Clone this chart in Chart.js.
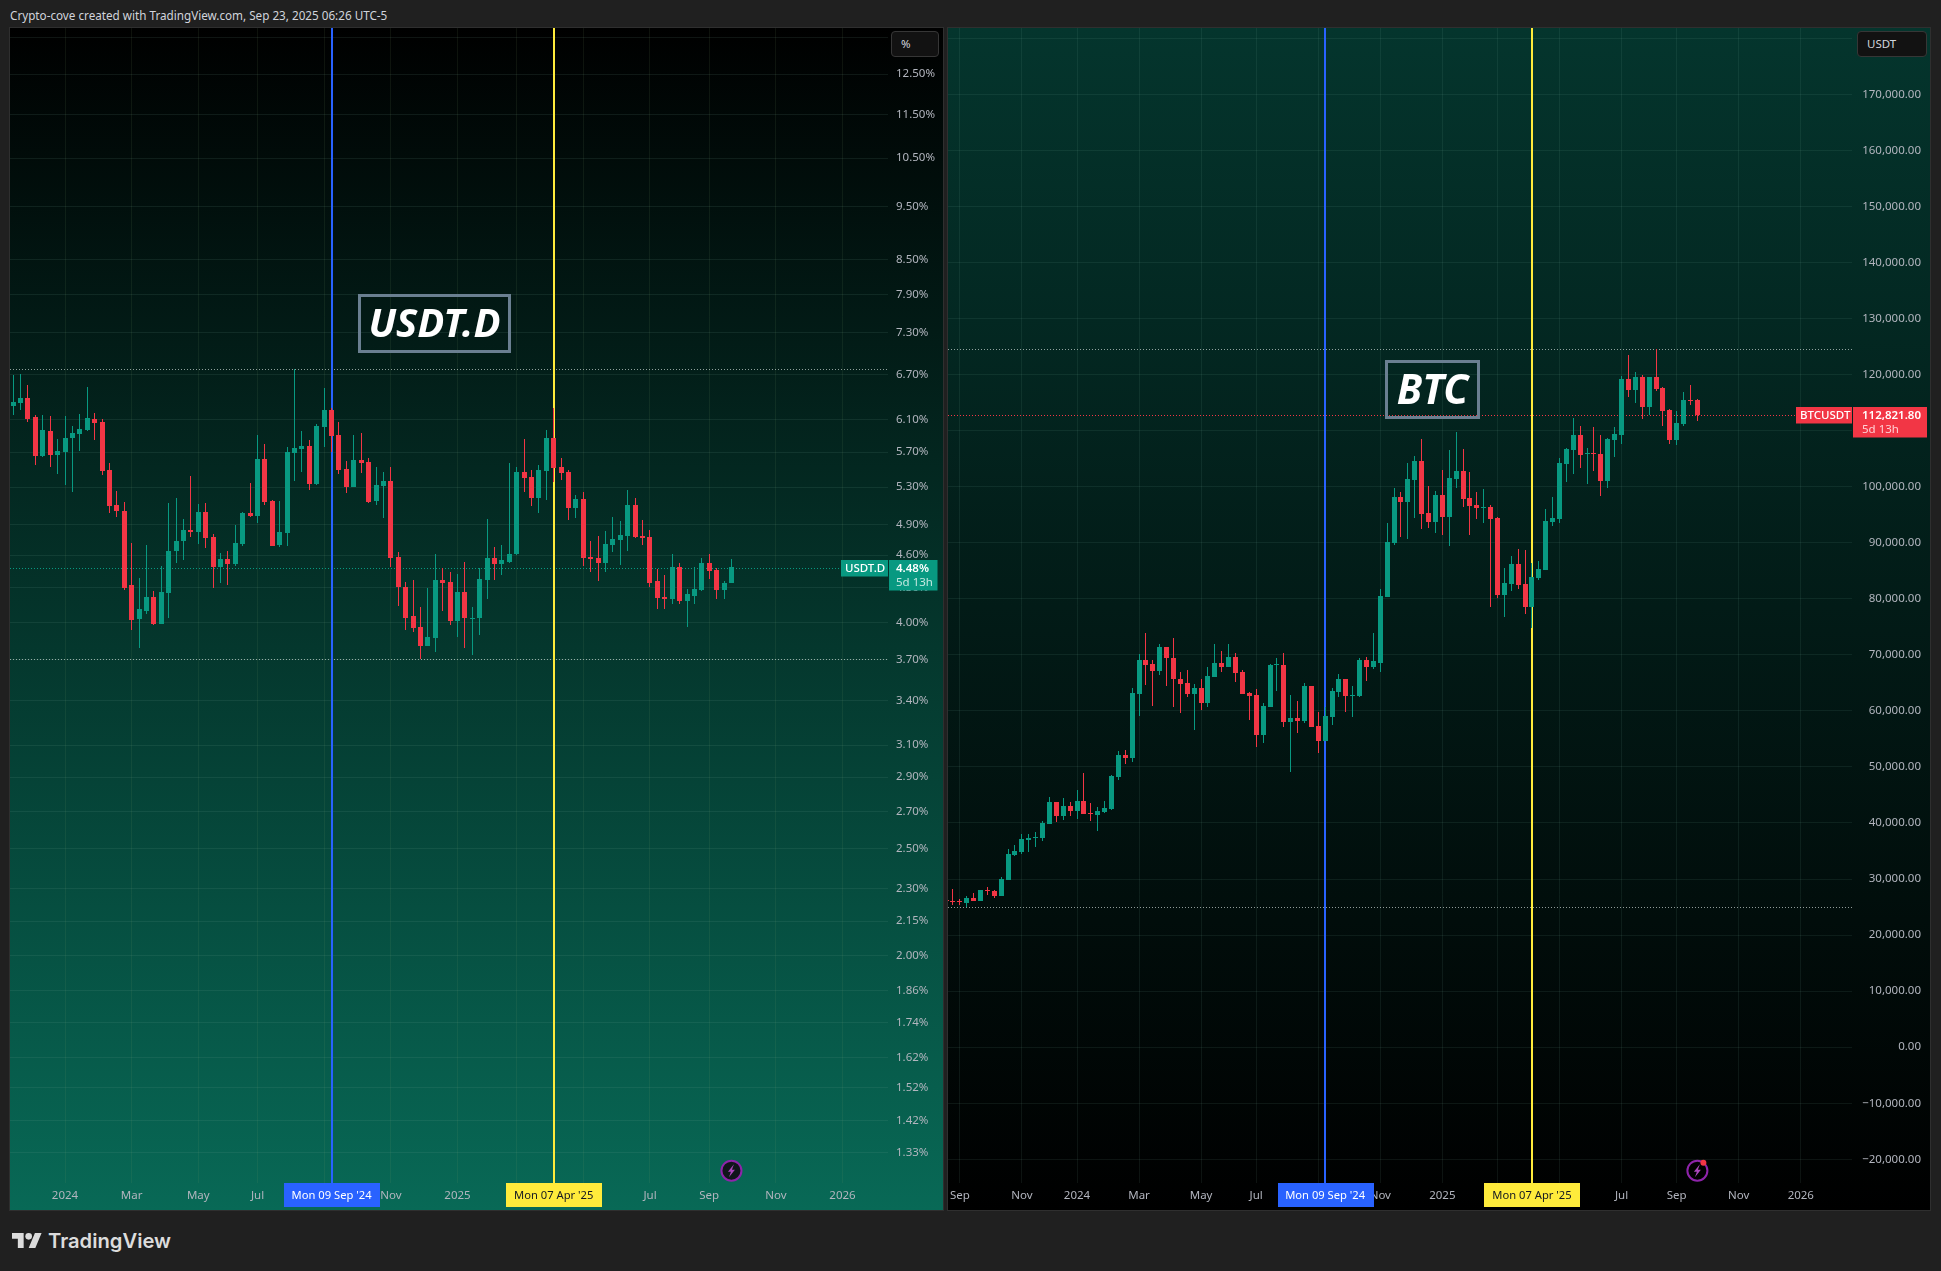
<!DOCTYPE html>
<html>
<head>
<meta charset="utf-8">
<title>USDT.D vs BTC</title>
<script src="https://cdn.jsdelivr.net/npm/chart.js@4"></script>
<style>
html, body { margin: 0; padding: 0; background: #202020; width: 1941px; height: 1271px; overflow: hidden; font-family: "Noto Sans", sans-serif; }
canvas { position: absolute; outline: 1px solid #2f2f2f; }
.head { position: absolute; left: 10px; top: 6px; color: #d1d4dc; font-size: 11.7px; line-height: 18px; white-space: nowrap; }
.title { position: absolute; box-sizing: border-box; border: 3px solid #6a7f91; color: #fff; font-weight: 700; font-style: italic; text-align: center; }
.unit { position: absolute; box-sizing: border-box; top: 31px; height: 26px; background: #121212; border: 1px solid #363636; border-radius: 4px; color: #d1d4dc; font-size: 11.5px; line-height: 24px; padding-left: 9px; }
.logo { position: absolute; left: 12px; top: 1233px; width: 30px; height: 15px; }
.brand { position: absolute; left: 48px; top: 1226px; color: #dcdcdc; font-family: Inter, sans-serif; font-weight: 600; font-size: 20.2px; line-height: 30px; }
</style>
</head>
<body>
<div class="head">Crypto-cove created with TradingView.com, Sep 23, 2025 06:26 UTC-5</div>
<canvas id="usdtChart" width="933" height="1182" style="left:10px;top:28px"></canvas>
<canvas id="btcChart" width="982" height="1182" style="left:948px;top:28px"></canvas>
<div class="title" style="left:358px;top:294px;width:153px;height:59px;font-size:40px;line-height:50px">USDT.D</div>
<div class="title" style="left:1385px;top:360px;width:95px;height:59px;font-size:41px;line-height:50px">BTC</div>
<div class="unit" style="left:891px;width:48px">%</div>
<div class="unit" style="left:1857px;width:70px">USDT</div>
<svg class="logo" viewBox="0 4 36 18"><path fill="#dcdcdc" d="M14 22H7V11H0V4h14v18zM28 22h-8l7.5-18h8L28 22z"/><circle fill="#dcdcdc" cx="20" cy="8" r="4"/></svg>
<div class="brand">TradingView</div>
<script>
// weekly candles, values
const usdtFirstWeek = '2023-11-13';
const usdtOpen = [6.27,6.31,6.38,6.13,5.65,5.95,5.67,5.70,5.87,5.92,5.97,6.11,6.07,5.49,5.11,5.04,4.32,4.03,4.10,4.22,3.99,4.25,4.64,4.74,4.85,4.83,5.03,4.78,4.49,4.56,4.52,4.71,5.02,4.99,5.62,5.15,4.70,4.82,5.69,5.74,5.77,5.33,6.01,6.22,5.91,5.50,5.30,5.61,5.58,5.15,5.31,5.37,4.58,4.31,4.05,3.96,3.81,3.87,4.37,4.35,4.01,4.26,4.03,4.04,4.37,4.57,4.52,4.54,4.61,5.47,5.41,5.18,5.48,5.87,5.53,5.47,5.07,5.17,4.58,4.57,4.53,4.70,4.75,4.79,5.11,4.79,4.78,4.36,4.22,4.20,4.49,4.18,4.23,4.28,4.53,4.46,4.28,4.34];
const usdtHigh = [6.69,6.70,6.55,6.16,6.16,6.14,5.86,6.14,6.02,6.17,6.53,6.18,6.11,5.57,5.26,5.14,4.72,4.39,4.70,4.27,4.50,5.13,5.18,4.96,5.42,5.12,5.13,4.81,4.62,4.64,4.90,5.03,5.34,5.91,5.79,5.16,5.15,5.76,6.77,5.95,5.85,6.04,6.51,6.25,6.07,5.60,5.91,5.93,5.63,5.53,5.47,5.52,4.63,4.35,4.37,4.13,4.30,4.61,4.48,4.44,4.42,4.54,4.13,4.48,4.96,4.68,4.70,5.57,5.53,5.86,5.49,5.55,5.97,6.25,5.63,5.49,5.21,5.25,4.74,4.79,4.84,4.98,4.94,5.27,5.18,4.95,4.85,4.47,4.41,4.61,4.53,4.29,4.49,4.57,4.61,4.48,4.36,4.56];
const usdtLow = [6.16,6.22,6.07,5.55,5.64,5.53,5.45,5.32,5.25,5.71,5.95,5.85,5.43,5.02,4.98,4.28,3.94,3.79,4.07,3.98,3.99,4.04,4.53,4.55,4.78,4.71,4.67,4.30,4.34,4.32,4.50,4.69,4.98,4.92,5.11,4.69,4.68,4.69,5.37,5.47,5.27,5.32,5.76,5.70,5.45,5.23,5.30,5.46,5.13,5.11,4.97,4.49,4.14,3.94,3.92,3.71,3.81,3.76,4.10,3.98,3.88,3.79,3.74,3.90,4.20,4.37,4.41,4.53,4.60,5.25,5.10,5.02,5.16,5.36,5.38,4.95,4.97,4.50,4.44,4.36,4.44,4.63,4.51,4.64,4.77,4.70,4.31,4.11,4.11,4.16,4.16,3.96,4.16,4.27,4.38,4.20,4.20,4.34];
const usdtClose = [6.33,6.38,6.11,5.65,5.97,5.67,5.71,5.87,5.93,5.98,6.12,6.06,5.48,5.10,5.04,4.30,4.02,4.11,4.22,3.99,4.26,4.64,4.74,4.85,4.83,5.03,4.77,4.49,4.56,4.52,4.72,5.02,4.99,5.62,5.14,4.69,4.83,5.70,5.75,5.77,5.33,6.02,6.22,5.89,5.49,5.30,5.61,5.57,5.14,5.32,5.37,4.57,4.31,4.04,3.95,3.81,3.88,4.37,4.34,4.01,4.26,4.04,4.04,4.38,4.57,4.52,4.55,4.61,5.47,5.40,5.18,5.49,5.87,5.51,5.46,5.07,5.17,4.57,4.56,4.53,4.71,4.76,4.80,5.11,4.78,4.77,4.34,4.21,4.20,4.49,4.18,4.24,4.29,4.53,4.45,4.28,4.34,4.49];
const usdtTickValues = [13.5,12.5,11.5,10.5,9.5,8.5,7.9,7.3,6.7,6.1,5.7,5.3,4.9,4.6,4.3,4.0,3.7,3.4,3.1,2.9,2.7,2.5,2.3,2.15,2.0,1.86,1.74,1.62,1.52,1.42,1.33];
const usdtLevels = [6.77,3.705];
const usdtLast = 4.48;
const usdtMonths = ['2024-01-01','2024-03-04','2024-05-06','2024-07-01','2024-09-02','2024-11-04','2025-01-06','2025-03-03','2025-05-05','2025-07-07','2025-09-01','2025-11-03','2026-01-05'];
const usdtMonthLabels = ['2024','Mar','May','Jul','Sep','Nov','2025','Mar','May','Jul','Sep','Nov','2026'];

const btcFirstWeek = '2023-08-21';
const btcOpen = [26300,26130,26130,25770,26670,26130,28100,27920,27020,29880,34350,34880,37020,37380,37380,39880,43810,41310,43100,42200,43990,41850,41490,42020,42560,48270,52200,51670,63100,68990,68450,67200,71310,69520,65770,65060,63100,64170,61490,66130,68630,67740,69700,66850,63270,62920,55770,60770,68100,68270,58100,58810,58270,64350,57380,54700,58980,63450,65770,62730,62730,69160,67910,68630,80230,89880,98090,97200,101130,104520,95230,93630,98450,94520,101310,102730,97910,96660,96130,96310,94340,80590,82560,86130,82560,78450,83630,85060,93630,94160,103980,106490,109170,105780,105960,105770,100950,108280,109170,119170,117210,119530,114170,119530,117560,113640,108280,111140,115420,115420];
const btcHigh = [26450,28270,26490,27020,27560,28100,28630,28100,30420,35420,36130,38100,38100,38450,40420,44700,43810,44520,43810,45950,48990,43630,42920,43990,48630,52920,53100,64170,70060,73810,68990,71850,71310,72920,67020,67380,64880,65600,67740,72020,70770,72020,70240,67380,63450,63990,61490,68450,69520,70240,62920,61850,65060,64520,59880,60770,64160,66660,65770,64520,69520,69700,73810,81660,93450,99700,98980,104160,105410,108450,100060,99160,102910,106480,109700,106660,102560,98980,99520,96660,94520,85410,87560,88810,88630,86310,86660,95950,98090,105060,106840,112210,110780,106850,110600,109170,108600,110600,119710,123460,120420,119890,119530,124650,117740,113810,113460,116850,118100,115600];
const btcLow = [26050,25420,25420,25060,26130,26130,27200,26670,27020,29880,34170,34520,34880,35770,36850,39880,40240,40600,41310,40770,41670,40420,38630,41850,42380,47740,50600,50950,59170,64700,60950,66490,64520,60770,59700,62560,56670,60240,60770,66130,66850,67740,65240,63100,58450,53630,54350,60770,63630,57200,49170,56130,57920,57200,52560,54700,57560,62560,59880,58980,62560,65410,67560,67020,80230,89520,90950,90590,94340,92380,92560,91660,91310,89340,99700,96310,91310,94160,93450,78450,80060,76660,81310,81660,77200,74700,83270,85060,92910,93450,100770,102210,103280,100410,102740,98270,99700,105240,107560,115960,114890,112030,112740,117030,110780,107560,107390,110780,114530,111670];
const btcClose = [26100,25950,25950,26670,26130,28100,27920,27020,30060,34520,35060,37200,37380,37560,40060,43810,41310,43100,42200,43990,41670,41670,42200,42740,48450,52200,51670,63270,68990,68270,67200,71310,69350,65600,64880,63100,64170,61490,66310,68630,67740,69700,66670,63100,62740,55770,60950,68270,68270,58100,58810,58270,64350,57200,54700,59170,63630,65770,62730,62910,69160,67910,68810,80410,90060,98090,97200,101310,104520,95060,93630,98450,94520,101480,102730,97730,96480,96130,96310,94160,80590,82730,86130,82380,78450,83810,85230,93810,94340,104160,106660,109170,105600,105960,105780,100950,108460,109350,119170,117210,119530,114170,119530,117390,113460,108280,111310,115420,115240,112820];
const btcTickValues = [180000,170000,160000,150000,140000,130000,120000,110000,100000,90000,80000,70000,60000,50000,40000,30000,20000,10000,0,-10000,-20000];
const btcLevels = [124500,25000];
const btcLast = 112821.8;
const btcMonths = ['2023-09-04','2023-11-06','2024-01-01','2024-03-04','2024-05-06','2024-07-01','2024-09-02','2024-11-04','2025-01-06','2025-03-03','2025-05-05','2025-07-07','2025-09-01','2025-11-03','2026-01-05'];
const btcMonthLabels = ['Sep','Nov','2024','Mar','May','Jul','Sep','Nov','2025','Mar','May','Jul','Sep','Nov','2026'];

const markedDates = ['2024-09-09','2025-04-07'];
const markedLabels = ["Mon 09 Sep '24","Mon 07 Apr '25"];

const UP = '#089981', DOWN = '#F23645';
const BLUE = '#2962FF', YELLOW = '#FFEB3B';
const WEEK = 7 * 86400000;
const FONT = '"Noto Sans", sans-serif';

function day(s) { return Date.parse(s + 'T00:00:00Z'); }

// the plot must fill the canvas, so no room is kept for half a label
function noPadding(s) {
	s.paddingLeft = 0; s.paddingRight = 0; s.paddingTop = 0; s.paddingBottom = 0;
}

function makePanel(id, p) {
	const times = p.open.map(function(v, i) { return day(p.firstWeek) + i * WEEK; });
	const colors = p.open.map(function(v, i) { return p.close[i] >= v ? UP : DOWN; });
	const wicks = times.map(function(t, i) { return {x: t, y: [p.low[i], p.high[i]]}; });
	const bodies = times.map(function(t, i) { return {x: t, y: [p.open[i], p.close[i]]}; });

	const decor = {
		id: 'decor',
		beforeDraw: function(chart) {
			const c = chart.ctx;
			const g = c.createLinearGradient(0, 0, 0, chart.height);
			g.addColorStop(0, p.bgTop);
			g.addColorStop(1, p.bgBottom);
			c.fillStyle = g;
			c.fillRect(0, 0, chart.width, chart.height);
		},
		// keep candles on whole pixels like the original
		afterDatasetsUpdate: function(chart) {
			chart.data.datasets.forEach(function(ds, n) {
				chart.getDatasetMeta(n).data.forEach(function(el) {
					el.x = Math.floor(el.x) + 0.5;
					el.y = Math.round(el.y);
					el.base = Math.round(el.base);
					if (el.y === el.base) el.base = el.y + 1;
				});
			});
		},
		beforeDatasetsDraw: function(chart) {
			const c = chart.ctx, a = chart.chartArea, x = chart.scales.x, y = chart.scales.y;
			c.save();
			c.lineWidth = 1;
			c.setLineDash([1, 2]);
			p.levels.forEach(function(v) {
				const py = Math.round(y.getPixelForValue(v)) + 0.5;
				c.strokeStyle = 'rgba(205,215,212,0.7)';
				c.beginPath(); c.moveTo(a.left, py); c.lineTo(a.right, py); c.stroke();
			});
			const ly = Math.round(y.getPixelForValue(p.last)) + 0.5;
			c.strokeStyle = p.tagColor;
			c.beginPath(); c.moveTo(a.left, ly); c.lineTo(a.right - p.nameW, ly); c.stroke();
			c.setLineDash([]);
			c.lineWidth = 2;
			markedDates.forEach(function(d, i) {
				const px = Math.round(x.getPixelForValue(day(d)));
				c.strokeStyle = i === 0 ? BLUE : YELLOW;
				c.beginPath(); c.moveTo(px, a.top); c.lineTo(px, a.bottom); c.stroke();
			});
			c.restore();
		},
		afterDraw: function(chart) {
			const c = chart.ctx, a = chart.chartArea, x = chart.scales.x, y = chart.scales.y;
			c.save();
			c.textBaseline = 'middle';
			// date tags on the time axis
			markedDates.forEach(function(d, i) {
				const px = x.getPixelForValue(day(d));
				c.fillStyle = i === 0 ? BLUE : YELLOW;
				c.fillRect(Math.round(px - 47.5), a.bottom, 96, 24);
				c.fillStyle = i === 0 ? '#ffffff' : '#131722';
				c.font = '11.2px ' + FONT;
				c.textAlign = 'center';
				c.fillText(markedLabels[i], px, a.bottom + 13);
			});
			// last price tags
			const py = Math.round(y.getPixelForValue(p.last));
			c.fillStyle = p.tagColor;
			c.fillRect(a.right - p.nameW, py - 8, p.nameW, 16.5);
			c.fillRect(a.right + 1, py - 8, p.priceW, 30.5);
			c.textAlign = 'left';
			c.font = '500 11.5px ' + FONT;
			c.fillStyle = '#ffffff';
			c.fillText(p.tagName, a.right - p.nameW + 4, py + 0.5);
			c.font = '600 11.5px ' + FONT;
			c.fillText(p.tagPrice, a.right + p.labelX, py + 0.5);
			c.font = '11.5px ' + FONT;
			c.fillStyle = p.tagSub;
			c.fillText('5d 13h', a.right + p.labelX, py + 15);
			// lightning badge over the last bar
			const bx = x.getPixelForValue(times[times.length - 1]);
			const by = a.bottom - 12.3;
			c.beginPath(); c.arc(bx, by, 10, 0, Math.PI * 2);
			c.fillStyle = p.badgeFill; c.fill();
			c.strokeStyle = '#8E24AA'; c.lineWidth = 2; c.stroke();
			c.beginPath();
			c.moveTo(bx + 2.5, by - 6.5); c.lineTo(bx - 3.5, by + 1); c.lineTo(bx - 0.5, by + 1);
			c.lineTo(bx - 2.5, by + 6.5); c.lineTo(bx + 3.5, by - 1); c.lineTo(bx + 0.5, by - 1);
			c.closePath();
			c.fillStyle = '#AB47BC'; c.fill();
			if (p.badgeDot) {
				c.beginPath(); c.arc(bx + 6, by - 8, 3, 0, Math.PI * 2);
				c.fillStyle = DOWN; c.fill();
			}
			c.restore();
		}
	};

	return new Chart(document.getElementById(id), {
		type: 'bar',
		data: {
			datasets: [
				{data: wicks, backgroundColor: colors, barThickness: 1, grouped: false, inflateAmount: 0, order: 2},
				{data: bodies, backgroundColor: colors, barThickness: 5, grouped: false, inflateAmount: 0, minBarLength: 1, order: 1}
			]
		},
		options: {
			responsive: false,
			animation: false,
			events: [],
			layout: {padding: {right: p.rightGap}},
			plugins: {legend: {display: false}, tooltip: {enabled: false}},
			scales: {
				x: {
					type: 'linear',
					position: 'bottom',
					bounds: 'data',
					offset: false,
					min: day(p.xStart),
					max: day(p.xEnd),
					afterBuildTicks: function(s) { s.ticks = p.months.map(function(m) { return {value: day(m)}; }); },
					afterFit: function(s) { s.height = p.xHeight; noPadding(s); },
					grid: {color: p.gridX, offset: false, drawTicks: false},
					border: {display: false},
					ticks: {
						autoSkip: false, maxRotation: 0, padding: 6, color: '#b2b5be',
						font: {family: FONT, size: 11.5},
						callback: function(v, i) { return p.monthLabels[i]; }
					}
				},
				y: {
					type: p.yType,
					position: 'right',
					bounds: 'data',
					min: p.yMin,
					max: p.yMax,
					afterBuildTicks: function(s) { s.ticks = p.tickValues.map(function(v) { return {value: v}; }); },
					afterFit: function(s) { s.width = p.yWidth; noPadding(s); },
					grid: {color: p.gridY, drawTicks: false},
					border: {display: false},
					ticks: {
						autoSkip: false, padding: p.yPad, crossAlign: p.yAlign, color: '#b2b5be',
						font: {family: FONT, size: 11.5},
						callback: p.yFormat
					}
				}
			}
		},
		plugins: [decor]
	});
}

makePanel('usdtChart', {
	firstWeek: usdtFirstWeek, open: usdtOpen, high: usdtHigh, low: usdtLow, close: usdtClose,
	tickValues: usdtTickValues, levels: usdtLevels, last: usdtLast, months: usdtMonths, monthLabels: usdtMonthLabels,
	xStart: '2023-11-10', xEnd: '2026-02-17', xHeight: 27,
	yType: 'logarithmic', yMin: 1.2476, yMax: 13.76, yWidth: 55, yPad: 8, yAlign: 'near', rightGap: 0,
	yFormat: function(v) { return v.toFixed(2) + '%'; },
	bgTop: '#000000', bgBottom: '#086956', gridX: 'rgba(125,165,105,0.11)', gridY: 'rgba(125,175,155,0.12)',
	tagName: 'USDT.D', tagPrice: '4.48%', tagColor: UP, tagSub: '#c4e8e0', nameW: 47, priceW: 48.5, labelX: 8,
	badgeFill: '#10151a', badgeDot: false
});

makePanel('btcChart', {
	firstWeek: btcFirstWeek, open: btcOpen, high: btcHigh, low: btcLow, close: btcClose,
	tickValues: btcTickValues, levels: btcLevels, last: btcLast, months: btcMonths, monthLabels: btcMonthLabels,
	xStart: '2023-08-23', xEnd: '2026-02-26', xHeight: 27,
	yType: 'linear', yMin: -24228, yMax: 181829, yWidth: 69, yPad: 0, yAlign: 'far', rightGap: 9,
	yFormat: function(v) { return v.toLocaleString('en-US', {minimumFractionDigits: 2, maximumFractionDigits: 2}).replace('-', '\u2212'); },
	bgTop: '#04352d', bgBottom: '#000000', gridX: 'rgba(125,190,170,0.10)', gridY: 'rgba(125,190,170,0.10)',
	tagName: 'BTCUSDT', tagPrice: '112,821.80', tagColor: DOWN, tagSub: '#ffd0d4', nameW: 56, priceW: 74, labelX: 10,
	badgeFill: '#000000', badgeDot: true
});
</script>
</body>
</html>
